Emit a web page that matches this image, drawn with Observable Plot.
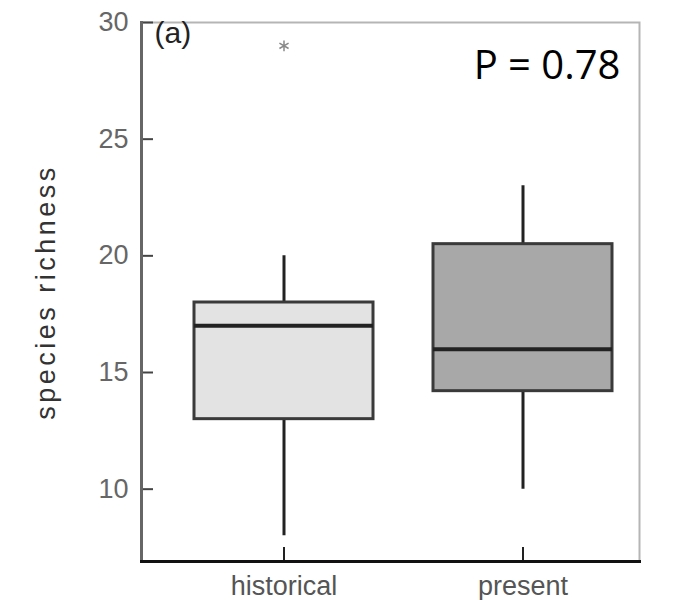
<!DOCTYPE html>
<html><head><meta charset="utf-8">
<script src="https://cdn.jsdelivr.net/npm/d3@7"></script>
<script src="https://cdn.jsdelivr.net/npm/@observablehq/plot@0.6"></script>
<style>body{margin:0;background:#fff}</style>
</head><body><div id="chart"></div>
<script>
const periods = ["historical", "present"];
const whiskerLow = [8, 10];
const q1 = [13, 14.2];
const medians = [17, 16];
const q3 = [18, 20.5];
const whiskerHigh = [20, 23];
const outlierPeriod = ["historical"];
const outlierValue = [29];
const fills = ["#e3e3e3", "#a8a8a8"];
const yTicks = [10, 15, 20, 25, 30];
const panelLabel = "(a)";
const pLabel = "P = 0.78";
const yLabel = "species richness";

const boxes = periods.map((p, i) => ({period: p, lo: whiskerLow[i], q1: q1[i], med: medians[i], q3: q3[i], hi: whiskerHigh[i], fill: fills[i]}));
const outliers = outlierPeriod.map((p, i) => ({period: p, value: outlierValue[i]}));

const chart = Plot.plot({
  width: 679, height: 600,
  marginLeft: 141, marginRight: 40, marginTop: 22, marginBottom: 39,
  style: {fontFamily: "'Liberation Sans', Arial, sans-serif", fontSize: "27px", background: "#fff"},
  x: {domain: periods, paddingInner: 0.251, paddingOuter: 0.167, align: 0.66, label: null, axis: null},
  y: {domain: [6.9, 30], label: null, axis: null},
  color: {type: "identity"},
  marks: [
    Plot.frame({stroke: "#b5b5b5", strokeWidth: 2}),
    Plot.ruleX(boxes, {x: "period", y1: "lo", y2: "hi", stroke: "#222", strokeWidth: 3}),
    Plot.barY(boxes, {x: "period", y1: "q1", y2: "q3", fill: "fill", stroke: "#3a3a3a", strokeWidth: 3}),
    Plot.tickY(boxes, {x: "period", y: "med", stroke: "#222", strokeWidth: 4}),
    Plot.dot(outliers, {x: "period", y: "value", symbol: "asterisk", r: 5, stroke: "#888", strokeWidth: 1.5}),
    Plot.axisY({ticks: yTicks, tickSize: 12, dx: 12, text: null, stroke: "#444", strokeWidth: 2}),
    Plot.axisY({ticks: yTicks, tickSize: 0, tickPadding: 13, fill: "#666", fontSize: 27}),
    Plot.axisX({tickSize: 14, dy: -14, text: null, stroke: "#222", strokeWidth: 2}),
    Plot.axisX({tickSize: 0, tickPadding: 14, fill: "#555", fontSize: 27}),
    Plot.frame({anchor: "left", stroke: "#666", strokeWidth: 3}),
    Plot.frame({anchor: "bottom", stroke: "#111", strokeWidth: 3}),
    Plot.text([panelLabel], {text: d => d, frameAnchor: "top-left", dx: 13, dy: -1, lineAnchor: "top", textAnchor: "start", fontSize: 30, fill: "#222"}),
    Plot.text([pLabel], {text: d => d, frameAnchor: "top-right", dx: -19, dy: 28, lineAnchor: "top", textAnchor: "end", fontSize: 40, fontFamily: "'Open Sans', sans-serif", fill: "#000"}),
    Plot.text([yLabel], {text: d => d, frameAnchor: "left", textAnchor: "middle", lineAnchor: "middle", dx: -95, rotate: -90, fontSize: 27, fill: "#333"})
  ]
});
d3.select(chart).selectAll("text").filter(function() { return this.textContent === yLabel; })
  .style("letter-spacing", "3.5px");
document.getElementById("chart").appendChild(chart);
</script>
</body></html>
